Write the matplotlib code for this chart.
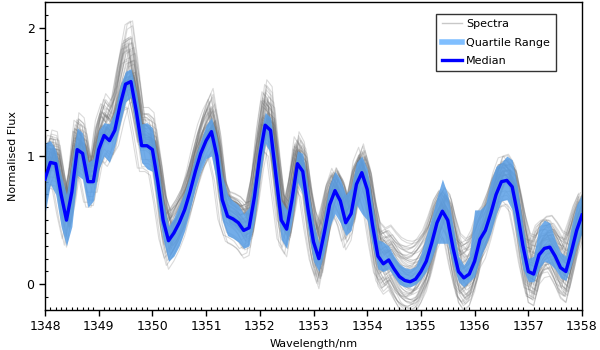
import numpy as np
import matplotlib
matplotlib.use("Agg")
import matplotlib.pyplot as plt
from matplotlib.ticker import MultipleLocator

wavelength_start = 1348.0
wavelength_step = 0.1

median = [0.82, 0.95, 0.94, 0.70, 0.50, 0.72, 1.05, 1.02, 0.80, 0.80,
          1.05, 1.16, 1.12, 1.20, 1.40, 1.56, 1.58, 1.35, 1.08, 1.08,
          1.05, 0.80, 0.50, 0.34, 0.40, 0.48, 0.58, 0.72, 0.88, 1.02,
          1.12, 1.19, 1.00, 0.66, 0.53, 0.51, 0.48, 0.42, 0.44, 0.68,
          1.00, 1.24, 1.20, 0.85, 0.50, 0.43, 0.66, 0.94, 0.88, 0.58,
          0.33, 0.20, 0.40, 0.62, 0.73, 0.65, 0.48, 0.55, 0.78, 0.87,
          0.74, 0.46, 0.22, 0.16, 0.19, 0.12, 0.06, 0.03, 0.02, 0.04,
          0.10, 0.18, 0.32, 0.48, 0.57, 0.50, 0.28, 0.10, 0.05, 0.08,
          0.18, 0.35, 0.42, 0.55, 0.70, 0.80, 0.81, 0.76, 0.55, 0.30,
          0.10, 0.08, 0.23, 0.28, 0.29, 0.22, 0.13, 0.10, 0.25, 0.42,
          0.54]

q3 = [1.10, 1.12, 1.05, 0.85, 0.70, 0.95, 1.22, 1.18, 0.95, 0.98,
      1.20, 1.26, 1.25, 1.35, 1.55, 1.66, 1.68, 1.50, 1.25, 1.26,
      1.22, 0.95, 0.65, 0.45, 0.52, 0.62, 0.72, 0.85, 1.00, 1.12,
      1.24, 1.30, 1.15, 0.85, 0.70, 0.65, 0.62, 0.55, 0.60, 0.85,
      1.15, 1.34, 1.30, 1.00, 0.65, 0.58, 0.80, 1.04, 1.02, 0.75,
      0.48, 0.32, 0.55, 0.78, 0.88, 0.82, 0.70, 0.75, 0.95, 1.00,
      0.90, 0.62, 0.35, 0.33, 0.30, 0.22, 0.16, 0.13, 0.12, 0.14,
      0.24, 0.38, 0.52, 0.68, 0.82, 0.70, 0.45, 0.22, 0.15, 0.22,
      0.58, 0.58, 0.62, 0.80, 0.92, 0.95, 1.00, 0.97, 0.75, 0.45,
      0.20, 0.22, 0.45, 0.50, 0.48, 0.35, 0.25, 0.22, 0.45, 0.62,
      0.70]

q1 = [0.55, 0.78, 0.70, 0.45, 0.30, 0.45, 0.85, 0.82, 0.60, 0.65,
      0.90, 1.00, 0.95, 1.08, 1.25, 1.42, 1.46, 1.20, 0.95, 0.90,
      0.88, 0.60, 0.35, 0.18, 0.22, 0.30, 0.42, 0.58, 0.75, 0.88,
      0.98, 1.00, 0.80, 0.50, 0.38, 0.36, 0.33, 0.28, 0.30, 0.50,
      0.82, 1.10, 1.02, 0.66, 0.35, 0.28, 0.50, 0.80, 0.70, 0.42,
      0.18, 0.10, 0.25, 0.45, 0.55, 0.48, 0.38, 0.42, 0.62, 0.55,
      0.50, 0.30, 0.12, 0.10, 0.12, 0.06, 0.00, -0.02, -0.02, 0.00,
      0.04, 0.10, 0.20, 0.32, 0.32, 0.32, 0.15, 0.02, -0.02, 0.02,
      0.06, 0.20, 0.30, 0.40, 0.55, 0.65, 0.66, 0.58, 0.35, 0.12,
      0.02, 0.02, 0.12, 0.18, 0.16, 0.12, 0.05, 0.03, 0.15, 0.30,
      0.40]

# per-spectrum variation, estimated from the spread of the grey cloud
spec_gain = [1.00, 1.10, 0.90, 1.20, 0.85, 1.05, 1.30, 0.95, 1.15, 0.80,
             1.25, 1.00, 1.08, 0.92, 1.35, 0.88, 1.18, 1.02, 0.78, 1.12,
             1.40, 0.97, 1.22, 0.86, 1.06, 1.28, 0.93, 1.14, 0.82, 1.03,
             1.17, 0.90, 1.33, 0.98, 1.09, 0.84, 1.24, 1.01, 0.95, 1.19,
             0.75, 1.45, 1.04, 0.89, 1.21, 0.99, 1.13, 0.87, 1.37, 0.94,
             1.07, 0.79, 1.26, 1.00, 0.91, 1.16, 1.05, 0.83, 1.30, 0.96]
spec_offset = [0.08, -0.10, 0.20, -0.15, 0.25, 0.00, -0.20, 0.15, -0.05, 0.30,
               -0.12, 0.05, -0.25, 0.12, -0.08, 0.22, -0.03, -0.16, 0.28, 0.03,
               -0.28, 0.07, -0.18, 0.18, -0.02, -0.10, 0.14, 0.02, 0.23, -0.14,
               0.05, 0.10, -0.22, 0.00, -0.07, 0.26, -0.04, 0.12, -0.12, 0.04,
               0.32, -0.24, 0.10, 0.17, -0.09, -0.19, 0.06, 0.21, -0.15, 0.09,
               -0.06, 0.27, -0.11, 0.16, -0.01, -0.21, 0.01, 0.19, -0.17, 0.11]
spec_shift = [0.00, 0.05, -0.03, 0.07, -0.06, 0.02, -0.05, 0.08, -0.02, 0.04,
              -0.08, 0.05, 0.00, -0.05, 0.03, 0.07, -0.03, 0.02, -0.07, 0.08,
              0.00, -0.02, 0.05, -0.08, 0.03, -0.04, 0.06, -0.05, 0.02, 0.00,
              -0.06, 0.05, 0.03, -0.02, 0.08, -0.03, 0.00, 0.06, -0.08, 0.02,
              0.04, -0.01, -0.06, 0.07, 0.01, -0.04, 0.06, -0.07, 0.03, -0.03,
              0.05, 0.00, -0.05, 0.02, 0.07, -0.02, 0.04, -0.06, 0.01, 0.06]

wl = wavelength_start + wavelength_step * np.arange(len(median))
med = np.array(median)

fig = plt.figure(figsize=(6, 3.5), dpi=100)
ax = fig.add_axes([0.075, 0.1143, 0.895, 0.88])

for g, o, s in zip(spec_gain, spec_offset, spec_shift):
    ax.plot(wl + s, o + g * med, color=(0.45, 0.45, 0.45), alpha=0.26, lw=0.8,
            zorder=1)
ax.plot([], [], color='#c8c8c8', lw=1, label='Spectra')

ax.fill_between(wl, q1, q3, color='#5a9fe6', alpha=0.85, lw=0, zorder=2)
ax.plot([], [], color='#80bfff', lw=4, label='Quartile Range')
ax.plot(wl, median, color='#0000ff', lw=2.4, zorder=3, label='Median')

ax.set_xlim(1348, 1358)
ax.set_ylim(-0.2, 2.2)
ax.xaxis.set_major_locator(MultipleLocator(1))
ax.xaxis.set_minor_locator(MultipleLocator(0.1))
ax.yaxis.set_major_locator(MultipleLocator(1))
ax.yaxis.set_minor_locator(MultipleLocator(0.1))
ax.tick_params(which='major', direction='out', length=4, width=1,
               labelsize=9, top=False, right=False)
ax.tick_params(which='minor', direction='in', length=2.5, width=0.8,
               top=False, right=False)
for sp in ax.spines.values():
    sp.set_linewidth(1)
ax.set_xlabel('Wavelength/nm', fontsize=8, labelpad=4)
ax.set_ylabel('Normalised Flux', fontsize=8, labelpad=6)

leg = ax.legend(loc='upper right', bbox_to_anchor=(0.961, 0.98), fontsize=8,
                frameon=True, fancybox=False, edgecolor='black',
                handlelength=1.8, borderpad=0.5, labelspacing=0.75,
                handletextpad=0.4)
leg.get_frame().set_linewidth(1)

fig.savefig('out.png', dpi=100)
